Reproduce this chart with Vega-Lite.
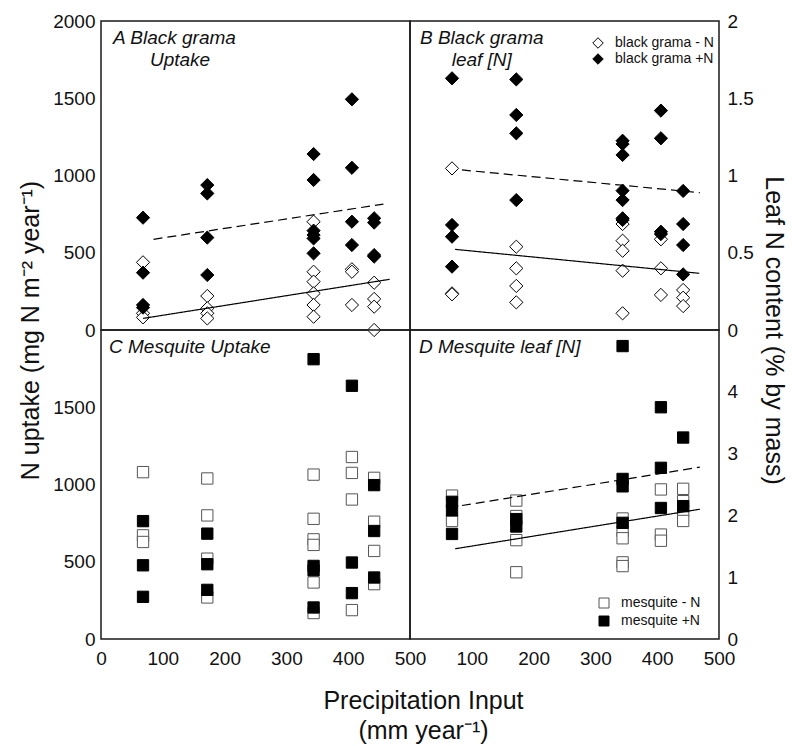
{
  "$schema": "https://vega.github.io/schema/vega-lite/v6.json",
  "padding": {"left": 17, "top": 11, "right": 6, "bottom": 0},
  "background": "white",
  "config": {
    "font": "Liberation Sans",
    "view": {"stroke": "#1a1a1a", "strokeWidth": 1.5},
    "axis": {"domain": false, "grid": false, "ticks": false, "labelFontSize": 19, "labelColor": "#111", "labelFont": "Liberation Sans", "titleFont": "Liberation Sans", "titleFontSize": 25, "titleFontWeight": "normal", "titleColor": "#111", "labelFlush": false, "labelOverlap": false},
    "legend": {"labelFont": "Liberation Sans", "labelFontSize": 14, "labelColor": "#111"},
    "title": {"font": "Liberation Sans", "fontSize": 19, "fontStyle": "italic", "fontWeight": "normal", "color": "#111", "anchor": "start", "frame": "group", "orient": "top", "baseline": "top", "lineHeight": 22}
  },
  "datasets": {
    "ptsA": [
      {"x": 68, "y": 438, "t": "black grama - N"}, {"x": 68, "y": 108, "t": "black grama - N"}, {"x": 68, "y": 82, "t": "black grama - N"},
      {"x": 172, "y": 220, "t": "black grama - N"}, {"x": 172, "y": 140, "t": "black grama - N"}, {"x": 172, "y": 108, "t": "black grama - N"}, {"x": 172, "y": 75, "t": "black grama - N"},
      {"x": 344, "y": 701, "t": "black grama - N"}, {"x": 344, "y": 377, "t": "black grama - N"}, {"x": 344, "y": 313, "t": "black grama - N"}, {"x": 344, "y": 237, "t": "black grama - N"}, {"x": 344, "y": 162, "t": "black grama - N"}, {"x": 344, "y": 86, "t": "black grama - N"},
      {"x": 406, "y": 393, "t": "black grama - N"}, {"x": 406, "y": 377, "t": "black grama - N"}, {"x": 406, "y": 162, "t": "black grama - N"},
      {"x": 442, "y": 306, "t": "black grama - N"}, {"x": 442, "y": 201, "t": "black grama - N"}, {"x": 442, "y": 151, "t": "black grama - N"}, {"x": 442, "y": 0, "t": "black grama - N"},
      {"x": 68, "y": 727, "t": "black grama +N"}, {"x": 68, "y": 371, "t": "black grama +N"}, {"x": 68, "y": 162, "t": "black grama +N"}, {"x": 68, "y": 145, "t": "black grama +N"},
      {"x": 172, "y": 938, "t": "black grama +N"}, {"x": 172, "y": 884, "t": "black grama +N"}, {"x": 172, "y": 598, "t": "black grama +N"}, {"x": 172, "y": 356, "t": "black grama +N"},
      {"x": 344, "y": 1139, "t": "black grama +N"}, {"x": 344, "y": 971, "t": "black grama +N"}, {"x": 344, "y": 643, "t": "black grama +N"}, {"x": 344, "y": 615, "t": "black grama +N"}, {"x": 344, "y": 593, "t": "black grama +N"}, {"x": 344, "y": 496, "t": "black grama +N"},
      {"x": 406, "y": 1493, "t": "black grama +N"}, {"x": 406, "y": 1050, "t": "black grama +N"}, {"x": 406, "y": 701, "t": "black grama +N"}, {"x": 406, "y": 550, "t": "black grama +N"},
      {"x": 442, "y": 723, "t": "black grama +N"}, {"x": 442, "y": 695, "t": "black grama +N"}, {"x": 442, "y": 485, "t": "black grama +N"}, {"x": 442, "y": 475, "t": "black grama +N"}
    ],
    "lineA": [
      {"x": 68, "y": 75, "fit": "-N"}, {"x": 467, "y": 328, "fit": "-N"},
      {"x": 85, "y": 587, "fit": "+N"}, {"x": 457, "y": 815, "fit": "+N"}
    ],
    "ptsB": [
      {"x": 68, "y": 1.046, "t": "black grama - N"}, {"x": 68, "y": 0.237, "t": "black grama - N"}, {"x": 68, "y": 0.231, "t": "black grama - N"},
      {"x": 172, "y": 0.539, "t": "black grama - N"}, {"x": 172, "y": 0.399, "t": "black grama - N"}, {"x": 172, "y": 0.285, "t": "black grama - N"}, {"x": 172, "y": 0.179, "t": "black grama - N"},
      {"x": 344, "y": 0.686, "t": "black grama - N"}, {"x": 344, "y": 0.578, "t": "black grama - N"}, {"x": 344, "y": 0.513, "t": "black grama - N"}, {"x": 344, "y": 0.384, "t": "black grama - N"}, {"x": 344, "y": 0.108, "t": "black grama - N"},
      {"x": 406, "y": 0.587, "t": "black grama - N"}, {"x": 406, "y": 0.399, "t": "black grama - N"}, {"x": 406, "y": 0.227, "t": "black grama - N"},
      {"x": 442, "y": 0.259, "t": "black grama - N"}, {"x": 442, "y": 0.209, "t": "black grama - N"}, {"x": 442, "y": 0.155, "t": "black grama - N"},
      {"x": 68, "y": 1.629, "t": "black grama +N"}, {"x": 68, "y": 0.680, "t": "black grama +N"}, {"x": 68, "y": 0.604, "t": "black grama +N"}, {"x": 68, "y": 0.410, "t": "black grama +N"},
      {"x": 172, "y": 1.622, "t": "black grama +N"}, {"x": 172, "y": 1.392, "t": "black grama +N"}, {"x": 172, "y": 1.273, "t": "black grama +N"}, {"x": 172, "y": 0.841, "t": "black grama +N"},
      {"x": 344, "y": 1.225, "t": "black grama +N"}, {"x": 344, "y": 1.204, "t": "black grama +N"}, {"x": 344, "y": 1.133, "t": "black grama +N"}, {"x": 344, "y": 0.902, "t": "black grama +N"}, {"x": 344, "y": 0.841, "t": "black grama +N"}, {"x": 344, "y": 0.723, "t": "black grama +N"}, {"x": 344, "y": 0.712, "t": "black grama +N"},
      {"x": 406, "y": 1.420, "t": "black grama +N"}, {"x": 406, "y": 1.241, "t": "black grama +N"}, {"x": 406, "y": 0.636, "t": "black grama +N"}, {"x": 406, "y": 0.621, "t": "black grama +N"},
      {"x": 442, "y": 0.900, "t": "black grama +N"}, {"x": 442, "y": 0.686, "t": "black grama +N"}, {"x": 442, "y": 0.550, "t": "black grama +N"}, {"x": 442, "y": 0.360, "t": "black grama +N"}
    ],
    "lineB": [
      {"x": 73, "y": 0.522, "fit": "-N"}, {"x": 468, "y": 0.367, "fit": "-N"},
      {"x": 84, "y": 1.036, "fit": "+N"}, {"x": 469, "y": 0.889, "fit": "+N"}
    ],
    "ptsC": [
      {"x": 68, "y": 1080, "t": "mesquite - N"}, {"x": 68, "y": 671, "t": "mesquite - N"}, {"x": 68, "y": 628, "t": "mesquite - N"},
      {"x": 172, "y": 1039, "t": "mesquite - N"}, {"x": 172, "y": 800, "t": "mesquite - N"}, {"x": 172, "y": 520, "t": "mesquite - N"}, {"x": 172, "y": 269, "t": "mesquite - N"},
      {"x": 344, "y": 1064, "t": "mesquite - N"}, {"x": 344, "y": 778, "t": "mesquite - N"}, {"x": 344, "y": 645, "t": "mesquite - N"}, {"x": 344, "y": 609, "t": "mesquite - N"}, {"x": 344, "y": 366, "t": "mesquite - N"}, {"x": 344, "y": 168, "t": "mesquite - N"},
      {"x": 406, "y": 1178, "t": "mesquite - N"}, {"x": 406, "y": 1075, "t": "mesquite - N"}, {"x": 406, "y": 903, "t": "mesquite - N"}, {"x": 406, "y": 187, "t": "mesquite - N"},
      {"x": 442, "y": 1043, "t": "mesquite - N"}, {"x": 442, "y": 759, "t": "mesquite - N"}, {"x": 442, "y": 570, "t": "mesquite - N"}, {"x": 442, "y": 355, "t": "mesquite - N"},
      {"x": 68, "y": 763, "t": "mesquite +N"}, {"x": 68, "y": 477, "t": "mesquite +N"}, {"x": 68, "y": 273, "t": "mesquite +N"},
      {"x": 172, "y": 682, "t": "mesquite +N"}, {"x": 172, "y": 484, "t": "mesquite +N"}, {"x": 172, "y": 318, "t": "mesquite +N"},
      {"x": 344, "y": 1811, "t": "mesquite +N"}, {"x": 344, "y": 473, "t": "mesquite +N"}, {"x": 344, "y": 445, "t": "mesquite +N"}, {"x": 344, "y": 204, "t": "mesquite +N"},
      {"x": 406, "y": 1639, "t": "mesquite +N"}, {"x": 406, "y": 495, "t": "mesquite +N"}, {"x": 406, "y": 297, "t": "mesquite +N"},
      {"x": 442, "y": 996, "t": "mesquite +N"}, {"x": 442, "y": 699, "t": "mesquite +N"}, {"x": 442, "y": 398, "t": "mesquite +N"}
    ],
    "ptsD": [
      {"x": 68, "y": 2.32, "t": "mesquite - N"}, {"x": 68, "y": 1.91, "t": "mesquite - N"},
      {"x": 172, "y": 2.24, "t": "mesquite - N"}, {"x": 172, "y": 1.99, "t": "mesquite - N"}, {"x": 172, "y": 1.60, "t": "mesquite - N"}, {"x": 172, "y": 1.08, "t": "mesquite - N"},
      {"x": 344, "y": 1.95, "t": "mesquite - N"}, {"x": 344, "y": 1.75, "t": "mesquite - N"}, {"x": 344, "y": 1.63, "t": "mesquite - N"}, {"x": 344, "y": 1.24, "t": "mesquite - N"}, {"x": 344, "y": 1.18, "t": "mesquite - N"},
      {"x": 406, "y": 2.42, "t": "mesquite - N"}, {"x": 406, "y": 1.69, "t": "mesquite - N"}, {"x": 406, "y": 1.59, "t": "mesquite - N"},
      {"x": 442, "y": 2.43, "t": "mesquite - N"}, {"x": 442, "y": 2.23, "t": "mesquite - N"}, {"x": 442, "y": 2.07, "t": "mesquite - N"}, {"x": 442, "y": 1.91, "t": "mesquite - N"},
      {"x": 68, "y": 2.22, "t": "mesquite +N"}, {"x": 68, "y": 2.08, "t": "mesquite +N"}, {"x": 68, "y": 1.70, "t": "mesquite +N"},
      {"x": 172, "y": 1.94, "t": "mesquite +N"}, {"x": 172, "y": 1.82, "t": "mesquite +N"},
      {"x": 344, "y": 4.74, "t": "mesquite +N"}, {"x": 344, "y": 2.59, "t": "mesquite +N"}, {"x": 344, "y": 2.47, "t": "mesquite +N"}, {"x": 344, "y": 1.88, "t": "mesquite +N"},
      {"x": 406, "y": 3.75, "t": "mesquite +N"}, {"x": 406, "y": 2.77, "t": "mesquite +N"}, {"x": 406, "y": 2.12, "t": "mesquite +N"},
      {"x": 442, "y": 3.26, "t": "mesquite +N"}, {"x": 442, "y": 2.15, "t": "mesquite +N"}
    ],
    "lineD": [
      {"x": 73, "y": 1.46, "fit": "-N"}, {"x": 469, "y": 2.10, "fit": "-N"},
      {"x": 84, "y": 2.16, "fit": "+N"}, {"x": 469, "y": 2.78, "fit": "+N"}
    ]
  },
  "columns": 2,
  "spacing": 0,
  "bounds": "flush",
  "resolve": {
    "scale": {"x": "independent", "y": "independent", "fill": "independent", "stroke": "independent", "strokeDash": "independent"},
    "legend": {"fill": "independent"}
  },
  "concat": [
    {
      "width": 309, "height": 309,
      "title": {"text": ["A Black grama", "\u200b\u00a0\u00a0\u00a0\u00a0\u00a0\u00a0\u00a0Uptake"], "offset": -58, "dx": 12},
      "encoding": {
        "x": {"field": "x", "type": "quantitative", "scale": {"domain": [0, 500], "nice": false, "zero": false}, "axis": {"labels": false, "title": null}},
        "y": {"field": "y", "type": "quantitative", "scale": {"domain": [0, 2000], "nice": false}, "axis": {"orient": "left", "values": [0, 500, 1000, 1500, 2000], "format": "d", "labelPadding": 6, "title": "N uptake (mg N m\u207b\u00b2 year\u207b\u00b9)", "titleY": 309, "titlePadding": 9}}
      },
      "layer": [
        {"data": {"name": "ptsA"}, "mark": {"type": "point", "shape": "diamond", "filled": true, "size": 175, "stroke": "black", "strokeWidth": 1, "opacity": 1},
         "encoding": {"fill": {"field": "t", "type": "nominal", "scale": {"domain": ["black grama - N", "black grama +N"], "range": ["white", "black"]}, "legend": null}}},
        {"data": {"name": "lineA"}, "mark": {"type": "line", "color": "black", "strokeWidth": 1.2},
         "encoding": {"strokeDash": {"field": "fit", "type": "nominal", "scale": {"domain": ["-N", "+N"], "range": [[1, 0], [9, 5]]}, "legend": null}}}
      ]
    },
    {
      "width": 309, "height": 309,
      "title": {"text": ["B Black grama", "\u200b\u00a0\u00a0\u00a0\u00a0\u00a0\u00a0leaf [N]"], "offset": -58, "dx": 10},
      "encoding": {
        "x": {"field": "x", "type": "quantitative", "scale": {"domain": [0, 500], "nice": false, "zero": false}, "axis": {"labels": false, "title": null}},
        "y": {"field": "y", "type": "quantitative", "scale": {"domain": [0, 2], "nice": false}, "axis": {"orient": "right", "values": [0, 0.5, 1, 1.5, 2], "format": "~g", "labelPadding": 8, "title": "Leaf N content (% by mass)", "titleY": 309, "titlePadding": 7}}
      },
      "layer": [
        {"data": {"name": "ptsB"}, "mark": {"type": "point", "shape": "diamond", "filled": true, "size": 175, "stroke": "black", "strokeWidth": 1, "opacity": 1},
         "encoding": {"fill": {"field": "t", "type": "nominal", "scale": {"domain": ["black grama - N", "black grama +N"], "range": ["white", "black"]},
           "legend": {"title": null, "orient": "none", "legendX": 181, "legendY": 15, "symbolType": "diamond", "symbolSize": 110, "symbolStrokeColor": "black", "symbolStrokeWidth": 1, "rowPadding": 0, "labelOffset": 10}}}},
        {"data": {"name": "lineB"}, "mark": {"type": "line", "color": "black", "strokeWidth": 1.2},
         "encoding": {"strokeDash": {"field": "fit", "type": "nominal", "scale": {"domain": ["-N", "+N"], "range": [[1, 0], [9, 5]]}, "legend": null}}}
      ]
    },
    {
      "width": 309, "height": 309,
      "title": {"text": "C Mesquite Uptake", "offset": -27, "dx": 8},
      "encoding": {
        "x": {"field": "x", "type": "quantitative", "scale": {"domain": [0, 500], "nice": false, "zero": false}, "axis": {"values": [0, 100, 200, 300, 400, 500], "format": "d", "labelPadding": 10, "title": ["Precipitation Input", "(mm year\u207b\u00b9)"], "titleX": 322, "titleY": 49, "titleBaseline": "top", "titleLineHeight": 30}},
        "y": {"field": "y", "type": "quantitative", "scale": {"domain": [0, 2000], "nice": false}, "axis": {"orient": "left", "values": [0, 500, 1000, 1500], "format": "d", "labelPadding": 6, "title": null}}
      },
      "layer": [
        {"data": {"name": "ptsC"}, "mark": {"type": "point", "shape": "square", "filled": true, "size": 128, "strokeWidth": 1, "opacity": 1},
         "encoding": {
           "fill": {"field": "t", "type": "nominal", "scale": {"domain": ["mesquite - N", "mesquite +N"], "range": ["white", "black"]}, "legend": null},
           "stroke": {"field": "t", "type": "nominal", "scale": {"domain": ["mesquite - N", "mesquite +N"], "range": ["#555", "black"]}, "legend": null}}}
      ]
    },
    {
      "width": 309, "height": 309,
      "title": {"text": "D Mesquite leaf [N]", "offset": -27, "dx": 9},
      "encoding": {
        "x": {"field": "x", "type": "quantitative", "scale": {"domain": [0, 500], "nice": false, "zero": false}, "axis": {"values": [100, 200, 300, 400, 500], "format": "d", "labelPadding": 10, "title": null}},
        "y": {"field": "y", "type": "quantitative", "scale": {"domain": [0, 5], "nice": false}, "axis": {"orient": "right", "values": [0, 1, 2, 3, 4], "format": "d", "labelPadding": 8, "title": null}}
      },
      "layer": [
        {"data": {"name": "ptsD"}, "mark": {"type": "point", "shape": "square", "filled": true, "size": 128, "strokeWidth": 1, "opacity": 1},
         "encoding": {
           "fill": {"field": "t", "type": "nominal", "scale": {"domain": ["mesquite - N", "mesquite +N"], "range": ["white", "black"]},
             "legend": {"title": null, "orient": "none", "legendX": 187, "legendY": 266, "symbolType": "square", "symbolSize": 100, "symbolStrokeColor": "#555", "symbolStrokeWidth": 1, "rowPadding": 4, "labelOffset": 10, "labelFontSize": 14}},
           "stroke": {"field": "t", "type": "nominal", "scale": {"domain": ["mesquite - N", "mesquite +N"], "range": ["#555", "black"]}, "legend": null}}},
        {"data": {"name": "lineD"}, "mark": {"type": "line", "color": "black", "strokeWidth": 1.2},
         "encoding": {"strokeDash": {"field": "fit", "type": "nominal", "scale": {"domain": ["-N", "+N"], "range": [[1, 0], [9, 5]]}, "legend": null}}}
      ]
    }
  ]
}
